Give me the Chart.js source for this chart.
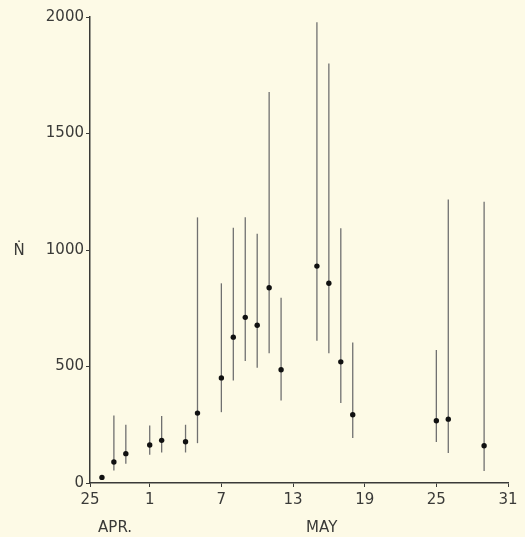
<!DOCTYPE html>
<html>
<head>
<meta charset="utf-8">
<script src="https://cdn.jsdelivr.net/npm/chart.js@4/dist/chart.umd.min.js"></script>
<style>
  html, body { margin: 0; padding: 0; background: #fdfae6; }
  #wrap { width: 525px; height: 537px; }
</style>
</head>
<body>
<div id="wrap"><canvas id="myChart" width="525" height="537"></canvas></div>
<script>
// day numbers counted from 1 May (Apr 30 = 0, axis starts at -4)
var days  = [-3, -2, -1, 1, 2, 4, 5, 7, 8, 9, 10, 11, 12, 15, 16, 17, 18, 25, 26, 29];
var nHat  = [24, 90, 126, 163, 183, 177, 300, 451, 626, 711, 677, 838, 486, 931, 857, 520, 293, 267, 274, 160];
var lower = [null, 54, 83, 121, 131, 131, 171, 304, 440, 524, 495, 557, 354, 610, 557, 343, 193, 176, 129, 51];
var upper = [null, 290, 250, 247, 288, 250, 1140, 857, 1096, 1141, 1070, 1678, 795, 1978, 1800, 1093, 603, 571, 1217, 1207];

var xTickValues = [-4, 1, 7, 13, 19, 25, 31];
var xTickLabels = ['25', '1', '7', '13', '19', '25', '31'];
var yTicks = [0, 500, 1000, 1500, 2000];

var ink = '#3a3a38';
var fontFam = "'DejaVu Sans', sans-serif";

// vertical ranges behind the points
var rangeBars = {
  id: 'rangeBars',
  beforeDatasetsDraw: function(chart) {
    var ctx = chart.ctx, xs = chart.scales.x, ys = chart.scales.y;
    ctx.save();
    ctx.strokeStyle = '#707070';
    ctx.lineWidth = 1.3;
    for (var i = 0; i < days.length; i++) {
      if (lower[i] == null) continue;
      var px = xs.getPixelForValue(days[i]);
      ctx.beginPath();
      ctx.moveTo(px, ys.getPixelForValue(lower[i]));
      ctx.lineTo(px, ys.getPixelForValue(upper[i]));
      ctx.stroke();
    }
    ctx.restore();
  }
};

// month names and the N-hat axis label
var extraText = {
  id: 'extraText',
  afterDraw: function(chart) {
    var ctx = chart.ctx, xs = chart.scales.x, ys = chart.scales.y;
    ctx.save();
    ctx.fillStyle = ink;
    ctx.font = '15px ' + fontFam;
    ctx.textAlign = 'center';
    ctx.textBaseline = 'middle';
    ctx.fillText('APR.', xs.getPixelForValue(-1.9), 528);
    ctx.fillText('MAY', xs.getPixelForValue(15.4), 528);
    ctx.fillText('Ṅ', 19, ys.getPixelForValue(1000) + 1);
    ctx.restore();
  }
};

var ctx = document.getElementById('myChart').getContext('2d');

var mychart = new Chart(ctx, {
  type: 'scatter',
  data: {
    datasets: [{
      data: days.map(function(d, i) { return { x: d, y: nHat[i] }; }),
      pointRadius: 2.7,
      pointHoverRadius: 2.7,
      pointBackgroundColor: '#111',
      pointBorderColor: '#111',
      borderWidth: 0
    }]
  },
  options: {
    responsive: false,
    animation: false,
    layout: {
      padding: { top: 17, right: 17, left: 0, bottom: 0 }
    },
    plugins: {
      legend: { display: false },
      tooltip: { enabled: false }
    },
    scales: {
      x: {
        type: 'linear',
        min: -4,
        max: 31,
        afterBuildTicks: function(scale) {
          scale.ticks = xTickValues.map(function(v) { return { value: v }; });
        },
        afterFit: function(scale) { scale.height = 54; },
        ticks: {
          autoSkip: false,
          maxRotation: 0,
          padding: 4,
          color: ink,
          font: { family: fontFam, size: 15 },
          callback: function(v) {
            var k = xTickValues.indexOf(v);
            return k >= 0 ? xTickLabels[k] : '';
          }
        },
        grid: { drawOnChartArea: false, tickLength: 4, color: ink },
        border: { color: ink, width: 1.5 }
      },
      y: {
        min: 0,
        max: 2000,
        afterBuildTicks: function(scale) {
          scale.ticks = yTicks.map(function(v) { return { value: v }; });
        },
        afterFit: function(scale) { scale.width = 90; },
        ticks: {
          padding: 2,
          color: ink,
          font: { family: fontFam, size: 15 },
          callback: function(v) { return String(v); }
        },
        grid: { drawOnChartArea: false, tickLength: 4, color: ink },
        border: { color: ink, width: 1.5 }
      }
    }
  },
  plugins: [rangeBars, extraText]
});
</script>
</body>
</html>
